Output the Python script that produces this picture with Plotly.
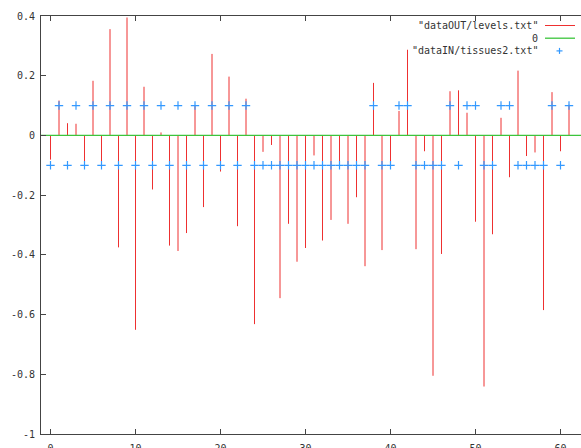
import plotly.graph_objects as go

# ---- data ----
levels = [-0.081, 0.117, 0.041, 0.039, -0.097, 0.183, -0.105, 0.356, -0.375, 0.395,
          -0.651, 0.163, -0.181, 0.010, -0.369, -0.387, -0.327, 0.102, -0.240, 0.273,
          -0.121, 0.197, -0.304, 0.123, -0.632, -0.055, -0.032, -0.545, -0.296, -0.423,
          -0.377, -0.067, -0.352, -0.283, -0.100, -0.296, -0.207, -0.438, 0.176, -0.384,
          -0.100, 0.082, 0.287, -0.381, -0.053, -0.805, -0.397, 0.148, 0.151, 0.076,
          -0.289, -0.841, -0.331, 0.059, -0.140, 0.217, -0.069, -0.057, -0.585, 0.145,
          -0.053, 0.103]
tissues = [-0.1, 0.1, -0.1, 0.1, -0.1, 0.1, -0.1, 0.1, -0.1, 0.1,
           -0.1, 0.1, -0.1, 0.1, -0.1, 0.1, -0.1, 0.1, -0.1, 0.1,
           -0.1, 0.1, -0.1, 0.1, -0.1, -0.1, -0.1, -0.1, -0.1, -0.1,
           -0.1, -0.1, -0.1, -0.1, -0.1, -0.1, -0.1, -0.1, 0.1, -0.1,
           -0.1, 0.1, 0.1, -0.1, -0.1, -0.1, -0.1, 0.1, -0.1, 0.1,
           0.1, -0.1, -0.1, 0.1, 0.1, -0.1, -0.1, -0.1, -0.1, 0.1,
           -0.1, 0.1]
x_index = list(range(len(levels)))
x_range = [-1.1176, 62.4118]
y_range = [-1.0, 0.4]
x_tick_vals = [0, 10, 20, 30, 40, 50, 60]
x_tick_labels = ["0", "10", "20", "30", "40", "50", "60"]
y_tick_vals = [0.4, 0.2, 0, -0.2, -0.4, -0.6, -0.8, -1]
y_tick_labels = ["0.4", "0.2", "0", "-0.2", "-0.4", "-0.6", "-0.8", "-1"]
legend_labels = ['"dataOUT/levels.txt"', '0', '"dataIN/tissues2.txt"']

RED = "#ee3030"
GREEN = "#3cc43c"
BLUE = "#3399ff"
FONT = "DejaVu Sans Mono"

# impulses built from the data
imp_x, imp_y = [], []
for xi, v in zip(x_index, levels):
    imp_x += [xi, xi, None]
    imp_y += [0, v, None]

fig = go.Figure()
fig.add_trace(go.Scatter(x=imp_x, y=imp_y, mode="lines",
                         line=dict(color=RED, width=1), hoverinfo="skip",
                         name=legend_labels[0]))
fig.add_trace(go.Scatter(x=x_range, y=[0, 0], mode="lines",
                         line=dict(color=GREEN, width=1.3), name=legend_labels[1]))
fig.add_trace(go.Scatter(x=x_index, y=tissues, mode="markers",
                         marker=dict(symbol="cross-thin", size=6,
                                     line=dict(color=BLUE, width=1.2)),
                         name=legend_labels[2]))

W, H = 581, 448
L, R, T, B = 41, 0, 16, 14
pw, ph = W - L - R, H - T - B

def px(xp):
    return (xp - L) / pw

def py(yp):
    return (H - B - yp) / ph

# hand-made gnuplot style legend (text right, sample on the right)
rows_y = [25.5, 38.2, 50.9]
for lab, yy in zip(legend_labels, rows_y):
    fig.add_annotation(x=px(539.5), y=py(yy), xref="paper", yref="paper",
                       text=lab, showarrow=False, xanchor="right", yanchor="middle",
                       font=dict(family=FONT, size=10, color="#333333"))
fig.add_shape(type="line", xref="paper", yref="paper", x0=px(545), x1=px(575),
              y0=py(rows_y[0]), y1=py(rows_y[0]), line=dict(color=RED, width=1))
fig.add_shape(type="line", xref="paper", yref="paper", x0=px(545), x1=px(575),
              y0=py(rows_y[1]), y1=py(rows_y[1]), line=dict(color=GREEN, width=1.3))
fig.add_shape(type="line", xref="paper", yref="paper", x0=px(556.5), x1=px(562.5),
              y0=py(rows_y[2]), y1=py(rows_y[2]), line=dict(color=BLUE, width=1.2))
fig.add_shape(type="line", xref="paper", yref="paper", x0=px(559.5), x1=px(559.5),
              y0=py(rows_y[2] - 3), y1=py(rows_y[2] + 3), line=dict(color=BLUE, width=1.2))

fig.update_layout(
    width=W, height=H,
    margin=dict(l=L, r=R, t=T, b=B, pad=0, autoexpand=False),
    paper_bgcolor="white", plot_bgcolor="white",
    showlegend=False,
    font=dict(family=FONT, size=10, color="#333333"),
)
fig.update_xaxes(range=x_range, tickvals=x_tick_vals, ticktext=x_tick_labels,
                 ticks="inside", ticklen=5, tickcolor="#444444", tickwidth=1,
                 showline=True, linecolor="#444444", linewidth=1, mirror="ticks",
                 showgrid=False, zeroline=False, ticklabelstandoff=5, automargin=False)
fig.update_yaxes(range=y_range, tickvals=y_tick_vals, ticktext=y_tick_labels,
                 ticks="inside", ticklen=5, tickcolor="#444444", tickwidth=1,
                 showline=True, linecolor="#444444", linewidth=1, mirror=False,
                 showgrid=False, zeroline=False, ticklabelstandoff=3, automargin=False)

fig.write_html("out.html")
